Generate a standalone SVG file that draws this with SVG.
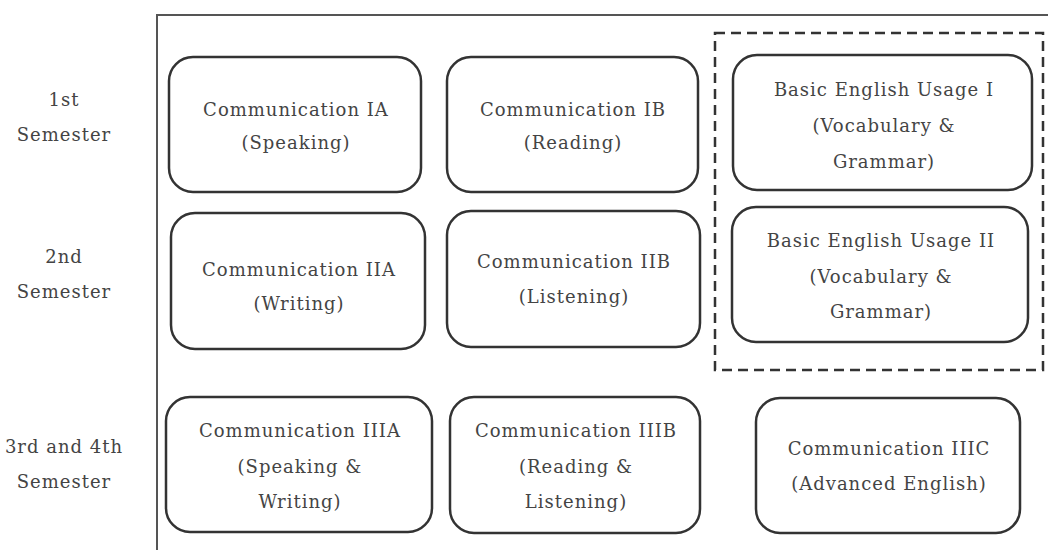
<svg xmlns="http://www.w3.org/2000/svg" width="1048" height="550" viewBox="0 0 1048 550">
<style>
.box{fill:#fff;stroke:#333;stroke-width:2.5}
.t{font-family:'DejaVu Serif',serif;font-size:18px;letter-spacing:1px;fill:#444;text-anchor:middle}
</style>
<rect x="0" y="0" width="1048" height="550" fill="#fff"/>
<rect x="157" y="15" width="910" height="560" fill="none" stroke="#555" stroke-width="2"/>
<g id="labels">
<text class="t" x="64" y="106">1st</text>
<text class="t" x="64" y="141">Semester</text>
<text class="t" x="64" y="263">2nd</text>
<text class="t" x="64" y="298">Semester</text>
<text class="t" x="64" y="453">3rd and 4th</text>
<text class="t" x="64" y="488">Semester</text>
</g>
<g id="group-basic">
<rect x="715" y="33" width="328" height="337" fill="none" stroke="#333" stroke-width="2.5" stroke-dasharray="10 6"/>
</g>
<g id="n1a"><rect class="box" x="169" y="57" width="252" height="135" rx="24"/>
<text class="t" x="296" y="116">Communication IA</text><text class="t" x="296" y="149">(Speaking)</text></g>
<g id="n1b"><rect class="box" x="447" y="57" width="251" height="135" rx="24"/>
<text class="t" x="573" y="116">Communication IB</text><text class="t" x="573" y="149">(Reading)</text></g>
<g id="nb1"><rect class="box" x="733" y="55" width="299" height="135" rx="24"/>
<text class="t" x="884" y="96">Basic English Usage I</text><text class="t" x="884" y="132">(Vocabulary &amp;</text><text class="t" x="884" y="168">Grammar)</text></g>
<g id="n2a"><rect class="box" x="171" y="213" width="254" height="136" rx="24"/>
<text class="t" x="299" y="276">Communication IIA</text><text class="t" x="299" y="310">(Writing)</text></g>
<g id="n2b"><rect class="box" x="447" y="211" width="253" height="136" rx="24"/>
<text class="t" x="574" y="268">Communication IIB</text><text class="t" x="574" y="303">(Listening)</text></g>
<g id="nb2"><rect class="box" x="732" y="207" width="296" height="135" rx="24"/>
<text class="t" x="881" y="247">Basic English Usage II</text><text class="t" x="881" y="283">(Vocabulary &amp;</text><text class="t" x="881" y="318">Grammar)</text></g>
<g id="n3a"><rect class="box" x="166" y="397" width="266" height="135" rx="24"/>
<text class="t" x="300" y="437">Communication IIIA</text><text class="t" x="300" y="473">(Speaking &amp;</text><text class="t" x="300" y="508">Writing)</text></g>
<g id="n3b"><rect class="box" x="450" y="397" width="250" height="136" rx="24"/>
<text class="t" x="576" y="437">Communication IIIB</text><text class="t" x="576" y="473">(Reading &amp;</text><text class="t" x="576" y="508">Listening)</text></g>
<g id="n3c"><rect class="box" x="756" y="398" width="264" height="135" rx="24"/>
<text class="t" x="889" y="455">Communication IIIC</text><text class="t" x="889" y="490">(Advanced English)</text></g>
<g id="connectors"></g>
</svg>
